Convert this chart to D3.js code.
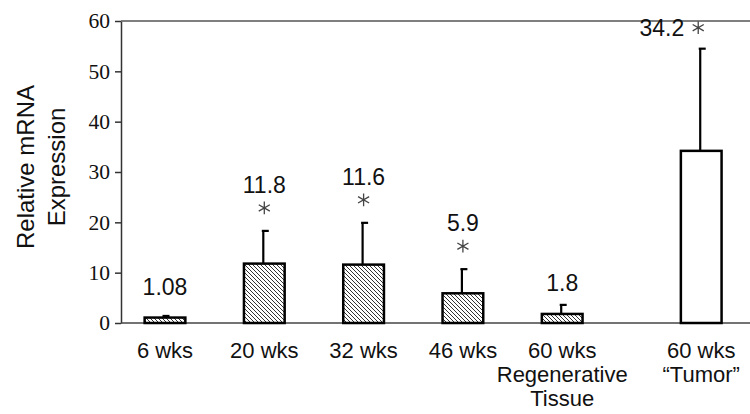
<!DOCTYPE html>
<html>
<head>
<meta charset="utf-8">
<script src="https://cdn.jsdelivr.net/npm/d3@7"></script>
<style>
  body { margin: 0; background: #fff; }
  svg { display: block; }
</style>
</head>
<body>
<div id="chart"></div>
<script>
const width = 750;
const height = 414;

// values
const categories = [["6 wks"], ["20 wks"], ["32 wks"], ["46 wks"], ["60 wks", "Regenerative", "Tissue"], ["60 wks", "\u201cTumor\u201d"]];
const means = [1.08, 11.8, 11.6, 5.9, 1.8, 34.2];
const errTops = [1.4, 18.3, 19.9, 10.7, 3.6, 54.5];
const valueLabels = ["1.08", "11.8", "11.6", "5.9", "1.8", "34.2"];
const significant = [false, true, true, true, false, true];
const hatched = [true, true, true, true, true, false];
const yTicks = [0, 10, 20, 30, 40, 50, 60];

const data = categories.map((c, i) => ({
  lines: c, mean: means[i], err: errTops[i], label: valueLabels[i],
  star: significant[i], hatch: hatched[i],
  // last group sits a bit apart from the others
  slot: i < 5 ? i : 5.4,
  last: i === categories.length - 1
}));

const svg = d3.select("#chart").append("svg")
  .attr("width", width)
  .attr("height", height);

const defs = svg.append("defs");
const pat = defs.append("pattern")
  .attr("id", "hatch")
  .attr("patternUnits", "userSpaceOnUse")
  .attr("width", 4)
  .attr("height", 4);
pat.append("rect").attr("width", 4).attr("height", 4).attr("fill", "#fff");
pat.append("path")
  .attr("d", "M-1,-1 L5,5 M-1,3 L1,5 M3,-1 L5,1")
  .attr("stroke", "#333")
  .attr("stroke-width", 1);

const x = d3.scaleLinear().domain([0, 5]).range([165, 661.5]);
const y = d3.scaleLinear().domain([0, 60]).range([323, 21]);
const barW = (x(1) - x(0)) * 0.41;

// y axis
const yAxis = svg.append("g")
  .attr("transform", "translate(121,0)")
  .call(d3.axisLeft(y).tickValues(yTicks).tickSize(6).tickPadding(5).tickSizeOuter(0));
yAxis.select(".domain").attr("stroke", "#333").attr("stroke-width", 1.5);
yAxis.selectAll(".tick line").attr("stroke", "#333").attr("stroke-width", 1.5);
yAxis.selectAll(".tick text")
  .attr("font-family", "'Liberation Serif', 'Times New Roman', serif")
  .attr("font-size", 21.5)
  .attr("fill", "#111");

// top frame line and baseline
svg.append("line")
  .attr("x1", 121).attr("x2", width)
  .attr("y1", y(60)).attr("y2", y(60))
  .attr("stroke", "#555").attr("stroke-width", 1.5);
svg.append("line")
  .attr("x1", 121).attr("x2", width)
  .attr("y1", y(0)).attr("y2", y(0))
  .attr("stroke", "#444").attr("stroke-width", 1.5);

const font = "'Liberation Sans', Arial, sans-serif";

// y label
const yl = svg.append("text")
  .attr("transform", "translate(0,167) rotate(-90)")
  .attr("text-anchor", "middle")
  .attr("font-family", font)
  .attr("font-size", 24)
  .attr("fill", "#111");
yl.append("tspan").attr("x", 0).attr("y", 34).text("Relative mRNA");
yl.append("tspan").attr("x", 0).attr("y", 65).text("Expression");

const g = svg.append("g")
  .selectAll("g")
  .data(data)
  .join("g");

// error bars (upper only) drawn under the bars
g.append("line")
  .attr("x1", d => x(d.slot) - 1).attr("x2", d => x(d.slot) - 1)
  .attr("y1", d => y(d.mean)).attr("y2", d => y(d.err))
  .attr("stroke", "#000").attr("stroke-width", 2.2);
g.append("line")
  .attr("x1", d => x(d.slot) - 2.5).attr("x2", d => x(d.slot) + 4.5)
  .attr("y1", d => y(d.err)).attr("y2", d => y(d.err))
  .attr("stroke", "#000").attr("stroke-width", 2.2);

g.append("rect")
  .attr("x", d => x(d.slot) - barW / 2)
  .attr("width", barW)
  .attr("y", d => y(d.mean))
  .attr("height", d => y(0) - y(d.mean))
  .attr("fill", d => d.hatch ? "url(#hatch)" : "#fff")
  .attr("stroke", "#000")
  .attr("stroke-width", 2.5);

// value labels
g.append("text")
  .attr("font-family", font)
  .attr("font-size", 23)
  .attr("fill", "#111")
  .attr("text-anchor", d => d.last ? "end" : "middle")
  .attr("x", d => d.last ? x(d.slot) - 17 : x(d.slot))
  .attr("y", d => d.last ? y(d.err) - 13 : (d.star ? y(d.err) - 38 : y(d.mean) - 23))
  .text(d => d.label);

// significance stars
const star = d3.symbol(d3.symbolAsterisk, 115);
g.filter(d => d.star).append("path")
  .attr("d", star)
  .attr("transform", d => d.last
    ? `translate(${x(d.slot) - 3},${y(d.err) - 21})`
    : `translate(${x(d.slot)},${y(d.err) - 23})`)
  .attr("fill", "none")
  .attr("stroke", "#444")
  .attr("stroke-width", 1.3);

// category labels
const cl = g.append("text")
  .attr("font-family", font)
  .attr("font-size", 22)
  .attr("fill", "#111")
  .attr("text-anchor", "middle");
cl.selectAll("tspan")
  .data(d => d.lines.map(t => ({ t, cx: x(d.slot) })))
  .join("tspan")
  .attr("x", d => d.cx)
  .attr("y", (d, i) => 358 + i * 24)
  .text(d => d.t);
</script>
</body>
</html>
